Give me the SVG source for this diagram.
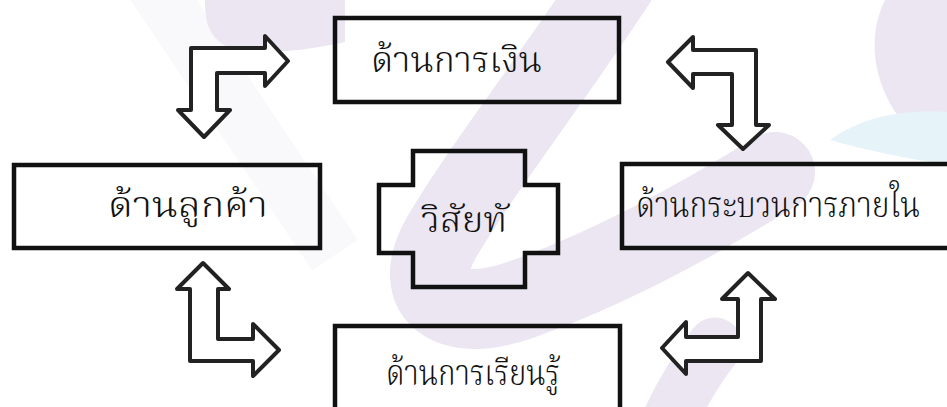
<svg xmlns="http://www.w3.org/2000/svg" width="947" height="407" viewBox="0 0 947 407">
<style>
.box{fill:none;stroke:#111;stroke-width:4.5}
.arrow{fill:#fff;stroke:#222;stroke-width:4;stroke-linejoin:round}
.lbl{font-family:"Kinnari","Norasi","Angsana New","TH Sarabun New","Noto Serif Thai","Laksaman","Garuda","Noto Sans Thai","Loma",serif;font-size:35px;font-weight:300;fill:#111}
.wm{fill:none;stroke:#ebe6f2;stroke-linecap:round}
</style>
<rect width="947" height="407" fill="#fff"/>
<g id="watermark">
  <path d="M150,-20 L335,255" fill="none" stroke="#f9f8fa" stroke-width="55"/>
  <path d="M205,0 L345,0 L345,42 C300,52 250,56 226,46 C207,36 205,18 205,0 Z" fill="#ebe6f2"/>
  <path class="wm" d="M630,-40 C560,70 480,170 440,240 C410,295 450,325 520,300 C600,272 690,225 775,172" stroke-width="80"/>
  <path class="wm" d="M715,345 C692,375 678,400 665,430" stroke-width="55"/>
  <path d="M885,0 C865,40 875,90 905,125 L947,140 L947,0 Z" fill="#ebe6f2"/>
  <path d="M830,140 C865,115 905,110 947,112 L947,165 C905,158 865,150 830,140 Z" fill="#e6f4f9"/>
</g>
<g id="connectors">
  <path id="arrow-tl" class="arrow" d="M288,61 L265,36 L265,48 L191,48 L191,110 L178,110 L204,137 L230,110 L217,110 L217,73 L265,73 L265,86 Z"/>
  <path id="arrow-tr" class="arrow" d="M668,62 L693,37 L693,50 L756,50 L756,125 L769,125 L743,149 L718,125 L732,125 L732,74 L693,74 L693,88 Z"/>
  <path id="arrow-bl" class="arrow" d="M203,263 L229,289 L218,289 L218,339 L253,339 L253,324 L279,350 L253,376 L253,361 L190,361 L190,289 L177,289 Z"/>
  <path id="arrow-br" class="arrow" d="M748,273 L775,299 L761,299 L761,361 L686,361 L686,374 L662,348 L686,322 L686,337 L738,337 L738,299 L722,299 Z"/>
</g>
<g id="node-finance">
  <rect class="box" x="335" y="18" width="284" height="84"/>
  <text class="lbl" x="371" y="72" textLength="171" lengthAdjust="spacingAndGlyphs">ด้านการเงิน</text>
</g>
<g id="node-customer">
  <rect class="box" x="14" y="165" width="306" height="83"/>
  <text class="lbl" x="108" y="217" textLength="160" lengthAdjust="spacingAndGlyphs">ด้านลูกค้า</text>
</g>
<g id="node-vision">
  <path class="box" d="M413,151 H525 V185 H558 V253 H525 V287 H413 V253 H379 V185 H413 Z"/>
  <text class="lbl" x="421" y="232" textLength="86" lengthAdjust="spacingAndGlyphs">วิสัยทั</text>
</g>
<g id="node-internal">
  <path class="box" d="M950,164 H622 V248 H950"/>
  <text class="lbl" x="636" y="217" font-size="31" textLength="284" lengthAdjust="spacingAndGlyphs">ด้านกระบวนการภายใน</text>
</g>
<g id="node-learning">
  <path class="box" d="M335,410 V326 H620 V410"/>
  <text class="lbl" x="386" y="385" textLength="174" lengthAdjust="spacingAndGlyphs">ด้านการเรียนรู้</text>
</g>
</svg>
